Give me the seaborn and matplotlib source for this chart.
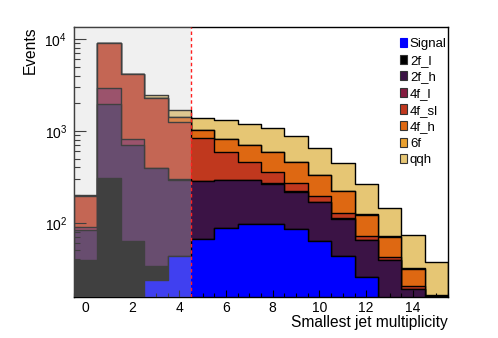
import numpy as np
import pandas as pd
import matplotlib
matplotlib.use('Agg')
import matplotlib.pyplot as plt
import seaborn as sns
from matplotlib.patches import Patch
from matplotlib.ticker import MultipleLocator

plt.rcParams['font.family'] = ['Liberation Sans', 'DejaVu Sans']
plt.rcParams['mathtext.default'] = 'regular'

# jet multiplicity bins 0..15
bins = np.arange(0, 16)
bin_edges = [b - 0.5 for b in range(17)]

# events per process and bin (stacked bottom -> top)
signal = [0, 0, 0, 24, 43, 66, 88, 97, 97, 85, 64, 43, 26, 0, 0, 0]
f2_l = [39, 310, 63, 10, 0, 0, 0, 0, 0, 0, 0, 0, 0, 0, 0, 0]
f2_h = [44, 1645, 635, 359, 250, 219, 201, 193, 170, 133, 105, 68, 39, 39, 19, 12]
f4_l = [8, 1010, 114, 5, 4, 2, 2, 2, 2, 1, 1, 1, 0.5, 0.3, 0.2, 0.1]
f4_sl = [103, 6055, 3338, 1887, 966, 552, 304, 168, 88, 53, 26, 15, 6.3, 3.1, 1.3, 1.3]
f4_h = [1, 3, 2, 3, 152, 173, 217, 243, 229, 184, 133, 93, 51, 28, 11, 2.5]
f6 = [1, 2, 1, 2, 5, 6, 6, 6, 5, 4, 3, 2, 1, 0.6, 0.4, 0.3]
qqh = [5, 10, 10, 190, 260, 378, 490, 494, 496, 423, 317, 230, 138, 73, 42, 21]

labels = ['Signal', '2f_l', '2f_h', '4f_l', '4f_sl', '4f_h', '6f', 'qqh']
colors = ['#0000ff', '#000000', '#3b1345', '#851c40', '#c0381e', '#de6812', '#e9a030', '#e6c674']

series = np.array([signal, f2_l, f2_h, f4_l, f4_sl, f4_h, f6, qqh], dtype=float)
stacked = np.cumsum(series, axis=0)

fig = plt.figure(figsize=(4.98, 3.38), dpi=100)
ax = fig.add_axes([74 / 498, 1 - 297 / 338, 374 / 498, 270.3 / 338])

# draw cumulative histograms from the top of the stack down (THStack style)
for i in reversed(range(len(labels))):
    df = pd.DataFrame({'njet': bins, 'events': stacked[i]})
    sns.histplot(data=df, x='njet', weights='events', bins=bin_edges, element='step',
                 fill=True, color=colors[i], alpha=1, edgecolor='black',
                 linewidth=1.0, ax=ax)

ax.set_yscale('log')
ax.set_xlim(-0.5, 15.5)
ax.set_ylim(10 ** 1.192, 10 ** 4.134)

# shaded cut region and cut line
ax.axvspan(-0.5, 4.5, color='#cfcfcf', alpha=0.31, lw=0, zorder=3)
ax.axvline(4.5, color='#ff2020', ls=(0, (2.5, 2)), lw=1.0, zorder=6)

ax.xaxis.set_major_locator(MultipleLocator(2))
ax.xaxis.set_minor_locator(MultipleLocator(0.5))
ax.tick_params(axis='x', which='major', direction='in', length=5.3, width=0.8, labelsize=10, pad=3)
ax.tick_params(axis='x', which='minor', direction='in', length=2.9, width=0.8)
ax.tick_params(axis='y', which='major', direction='in', length=8.4, width=0.8, labelsize=10, pad=5)
ax.tick_params(axis='y', which='minor', direction='in', length=4.2, width=0.8)
for s in ax.spines.values():
    s.set_linewidth(1.0)
    s.set_color('black')

ax.set_xlabel('Smallest jet multiplicity', fontsize=11.2, loc='right')
ax.xaxis.set_label_coords(1.0, -0.068)
ax.set_ylabel('Events', fontsize=11.2, loc='top')
ax.yaxis.set_label_coords(-0.098, 1.0)

handles = [Patch(facecolor=c, edgecolor='#333333' if c != '#0000ff' else c, linewidth=0.8)
           for c in colors]
leg = ax.legend(handles, labels, loc='upper left', bbox_to_anchor=(400 / 498, 1 - 38 / 338),
                bbox_transform=fig.transFigure, frameon=False, fontsize=9.5,
                handlelength=0.55, handleheight=0.7, handletextpad=0.2,
                labelspacing=0.33, borderpad=0, borderaxespad=0)
leg.set_zorder(7)

fig.savefig('out.png', dpi=100)
